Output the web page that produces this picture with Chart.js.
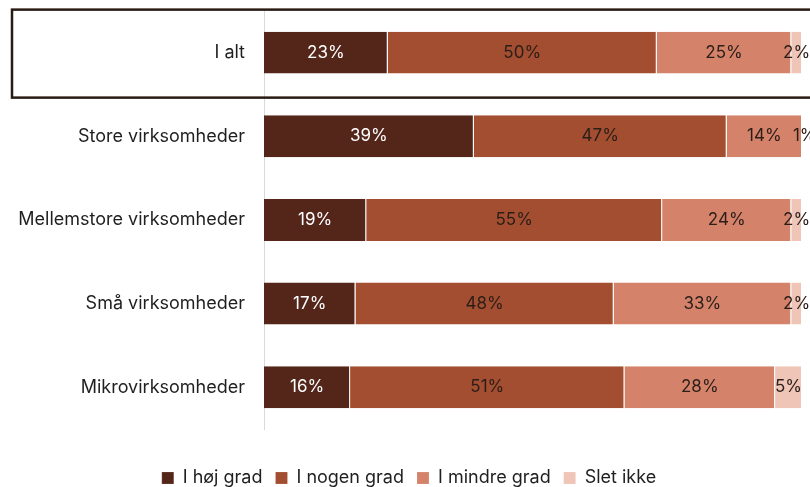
<!DOCTYPE html>
<html>
<head>
<meta charset="utf-8">
<script src="https://cdn.jsdelivr.net/npm/chart.js@4/dist/chart.umd.min.js"></script>
<style>
html,body{margin:0;padding:0;background:#fff;}
#wrap{width:810px;height:487px;position:relative;}
</style>
</head>
<body>
<div id="wrap"><canvas id="c"></canvas></div>
<script>
const categories = ["I alt", "Store virksomheder", "Mellemstore virksomheder", "Små virksomheder", "Mikrovirksomheder"];
const seriesNames = ["I høj grad", "I nogen grad", "I mindre grad", "Slet ikke"];
const hojGrad = [23, 39, 19, 17, 16];
const nogenGrad = [50, 47, 55, 48, 51];
const mindreGrad = [25, 14, 24, 33, 28];
const sletIkke = [2, 1, 2, 2, 5];
const colors = ["#54261a", "#a34e30", "#d4836a", "#efc5b8"];
const labelColors = ["#ffffff", "#2b1d18", "#2b1d18", "#2b1d18"];
const FONT = "Inter, 'DejaVu Sans', sans-serif";

const valueLabels = {
  id: 'valueLabels',
  afterDatasetsDraw(chart) {
    const ctx = chart.ctx;
    ctx.save();
    ctx.font = "17px " + FONT;
    ctx.textAlign = 'center';
    ctx.textBaseline = 'middle';
    chart.data.datasets.forEach((ds, i) => {
      const meta = chart.getDatasetMeta(i);
      meta.data.forEach((bar, j) => {
        const v = ds.data[j];
        const cx = (bar.x + bar.base) / 2;
        ctx.fillStyle = labelColors[i];
        ctx.fillText(v + "%", cx, bar.y);
      });
    });
    ctx.restore();
  }
};

const highlightBox = {
  id: 'highlightBox',
  afterDraw(chart) {
    const ctx = chart.ctx;
    const y = chart.scales.y;
    const cy = y.getPixelForValue(0);
    ctx.save();
    ctx.strokeStyle = "#2a1a14";
    ctx.lineWidth = 2.5;
    ctx.strokeRect(12, cy - 43, 810, 88);
    ctx.restore();
  }
};

const data = {
  labels: categories,
  datasets: [hojGrad, nogenGrad, mindreGrad, sletIkke].map((d, i) => ({
    label: seriesNames[i],
    data: d,
    backgroundColor: colors[i],
    borderColor: "rgba(255,255,255,0.6)",
    borderWidth: {left: 0, right: 1, top: 0, bottom: 0},
    borderSkipped: false,
    barPercentage: 0.502,
    categoryPercentage: 1.0
  }))
};

new Chart(document.getElementById('c'), {
  type: 'bar',
  data,
  options: {
    indexAxis: 'y',
    responsive: true,
    maintainAspectRatio: false,
    animation: false,
    layout: {padding: {top: 0, right: 8, left: 16, bottom: -10}},
    scales: {
      x: {
        stacked: true, min: 0, max: 100, display: false
      },
      y: {
        stacked: true,
        grid: {display: false, drawTicks: true, tickLength: 19},
        border: {display: true, color: "#d9d9d9", width: 1},
        ticks: {
          color: "#1f1f1f",
          font: {family: FONT, size: 18},
          padding: 0,
          crossAlign: 'near'
        },
        afterFit(scale) { scale.width = 248; }
      }
    },
    plugins: {
      legend: {
        position: 'bottom',
        title: {display: true, text: '', font: {size: 10, lineHeight: 2.7}, padding: 0},
        labels: {
          color: "#1f1f1f",
          font: {family: FONT, size: 18},
          boxWidth: 12,
          boxHeight: 12,
          padding: 13
        }
      },
      tooltip: {enabled: false}
    }
  },
  plugins: [valueLabels, highlightBox]
});
</script>
</body>
</html>
